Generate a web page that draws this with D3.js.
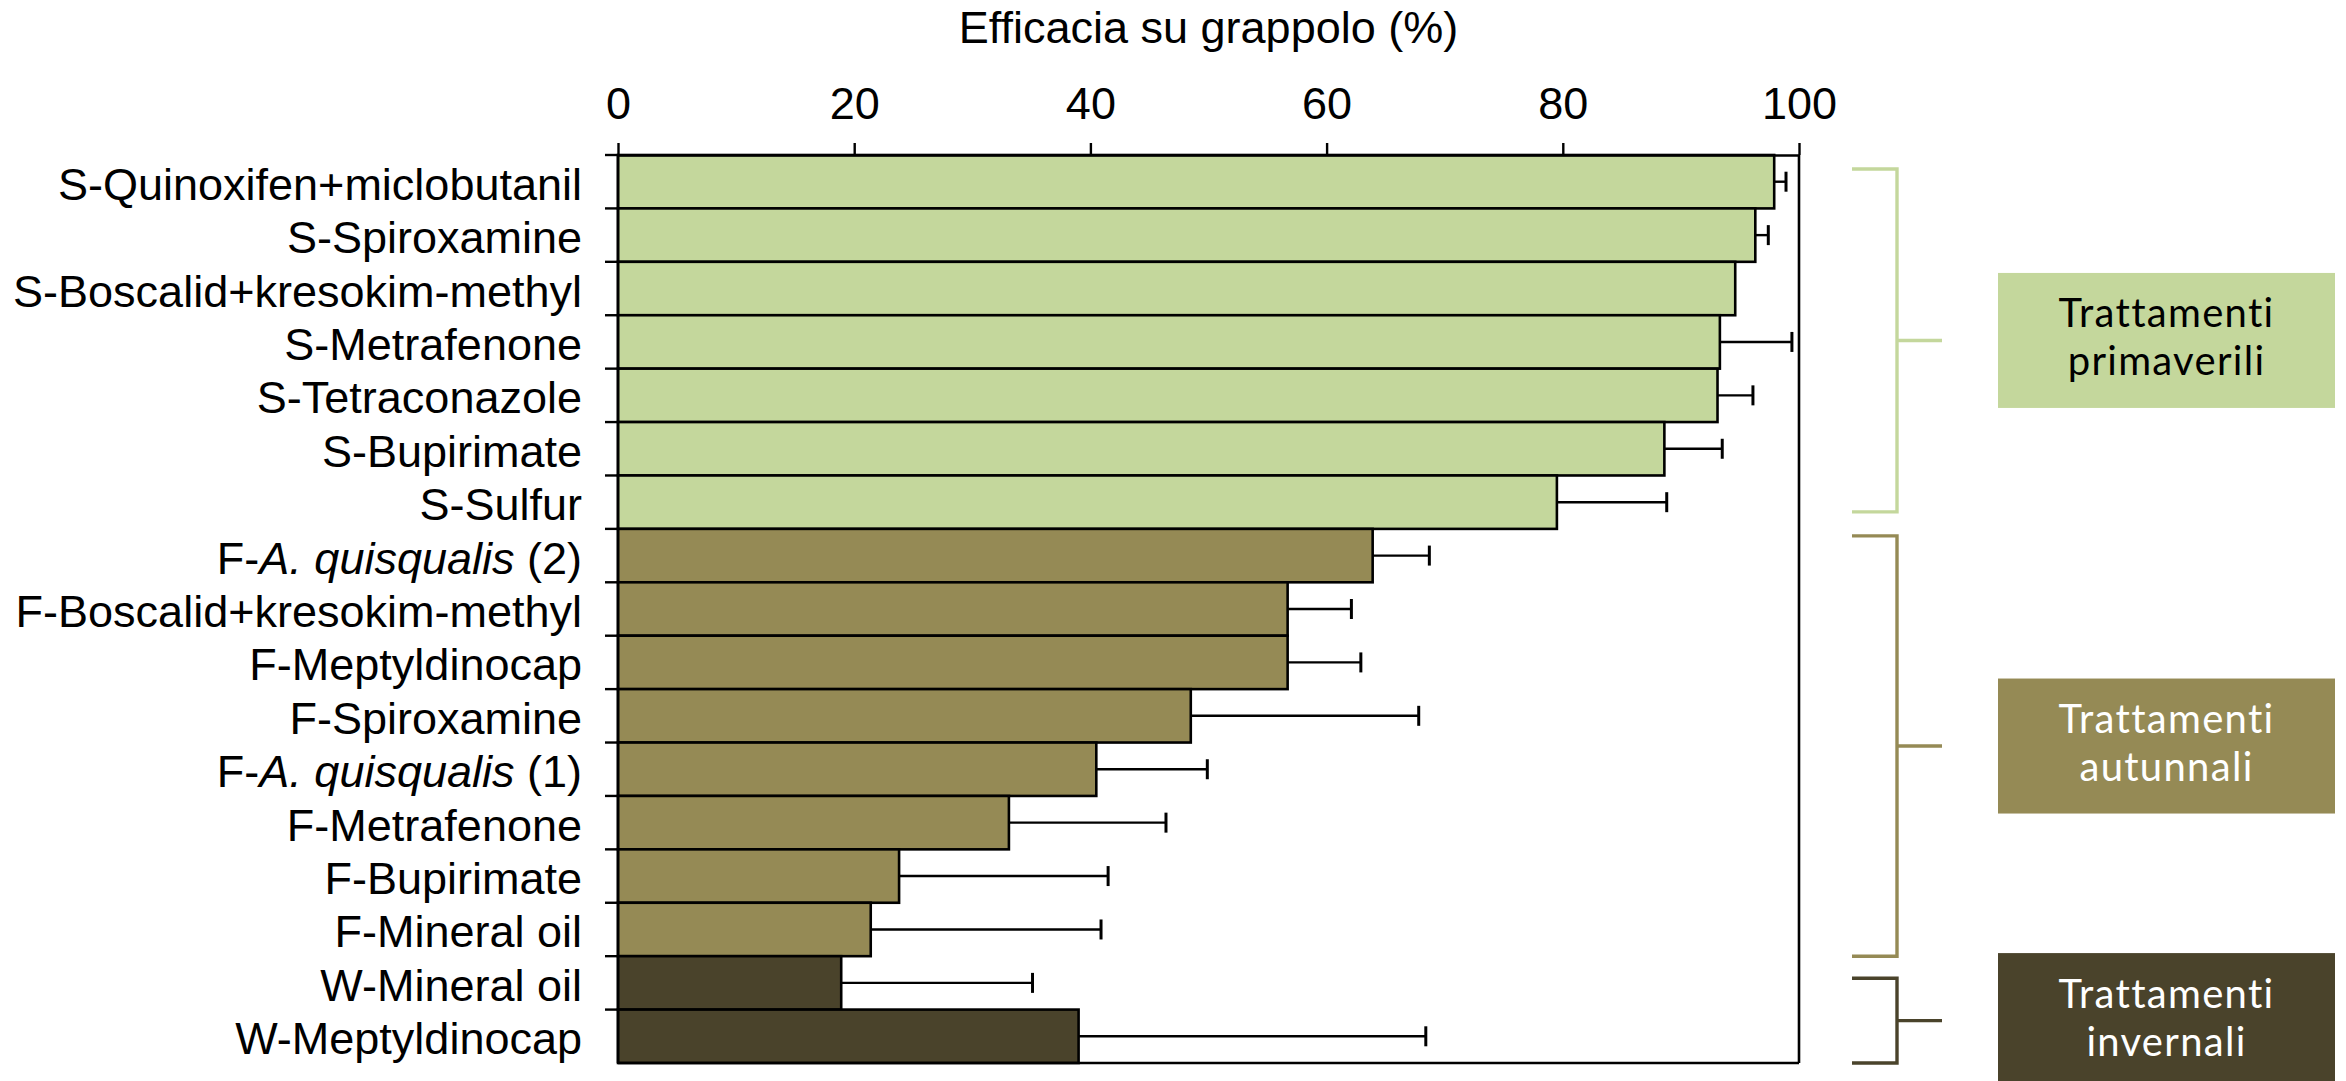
<!DOCTYPE html>
<html>
<head>
<meta charset="utf-8">
<script src="https://cdn.jsdelivr.net/npm/d3@7"></script>
<style>
  html, body { margin: 0; padding: 0; background: #ffffff; }
  svg { display: block; }
</style>
</head>
<body>
<svg id="chart" width="2346" height="1081"></svg>
<script>
// Treatments, top to bottom (S = spring, F = autumn, W = winter)
const categories = [
  "S-Quinoxifen+miclobutanil",
  "S-Spiroxamine",
  "S-Boscalid+kresokim-methyl",
  "S-Metrafenone",
  "S-Tetraconazole",
  "S-Bupirimate",
  "S-Sulfur",
  "F-A. quisqualis (2)",
  "F-Boscalid+kresokim-methyl",
  "F-Meptyldinocap",
  "F-Spiroxamine",
  "F-A. quisqualis (1)",
  "F-Metrafenone",
  "F-Bupirimate",
  "F-Mineral oil",
  "W-Mineral oil",
  "W-Meptyldinocap"
];

// Efficacy on bunches (%) and its error
const efficacy = [97.9, 96.3, 94.6, 93.3, 93.1, 88.6, 79.5,
                  63.9, 56.7, 56.7, 48.5, 40.5, 33.1, 23.8, 21.4,
                  18.9, 39.0];
const errorBar = [1.0, 1.1, 0, 6.1, 3.0, 4.9, 9.3,
                  4.8, 5.4, 6.2, 19.3, 9.4, 13.3, 17.7, 19.5,
                  16.2, 29.4];

// Treatment season of each bar
const season = ["spring", "spring", "spring", "spring", "spring", "spring", "spring",
                "autumn", "autumn", "autumn", "autumn", "autumn", "autumn", "autumn", "autumn",
                "winter", "winter"];

const xTicks = [0, 20, 40, 60, 80, 100];
const axisTitle = "Efficacia su grappolo (%)";

// Group boxes on the right
const groupKeys = ["spring", "autumn", "winter"];
const groupLines = [["Trattamenti", "primaverili"],
                    ["Trattamenti", "autunnali"],
                    ["Trattamenti", "invernali"]];

const seasonFill = { spring: "#c4d79c", autumn: "#958a55", winter: "#4a432b" };
const seasonText = { spring: "#000000", autumn: "#ffffff", winter: "#ffffff" };

const svg = d3.select("#chart");
const labelFont = "'Liberation Sans', Arial, Helvetica, sans-serif";

const x = d3.scaleLinear().domain([0, 100]).range([618, 1799]);
const y = d3.scaleBand().domain(categories).range([155, 1063]).padding(0);
const bw = y.bandwidth();

const rows = categories.map((c, i) => ({
  name: c, value: efficacy[i], err: errorBar[i], season: season[i]
}));

// Bars
svg.append("g")
  .selectAll("rect")
  .data(rows)
  .join("rect")
  .attr("x", x(0))
  .attr("y", d => y(d.name))
  .attr("width", d => x(d.value) - x(0))
  .attr("height", bw)
  .attr("fill", d => seasonFill[d.season])
  .attr("stroke", "#000")
  .attr("stroke-width", 2.6);

// Error bars (one-sided, to the right)
const eb = svg.append("g").attr("stroke", "#000");
const withErr = rows.filter(d => d.err > 0);
eb.selectAll("line.stem")
  .data(withErr)
  .join("line")
  .attr("class", "stem")
  .attr("x1", d => x(d.value))
  .attr("x2", d => x(d.value + d.err))
  .attr("y1", d => y(d.name) + bw / 2)
  .attr("y2", d => y(d.name) + bw / 2)
  .attr("stroke-width", 2.4);
eb.selectAll("line.cap")
  .data(withErr)
  .join("line")
  .attr("class", "cap")
  .attr("x1", d => x(d.value + d.err))
  .attr("x2", d => x(d.value + d.err))
  .attr("y1", d => y(d.name) + bw / 2 - 10)
  .attr("y2", d => y(d.name) + bw / 2 + 10)
  .attr("stroke-width", 3);

// Frame: right and bottom edges
svg.append("line")
  .attr("x1", x(100)).attr("x2", x(100))
  .attr("y1", y.range()[0]).attr("y2", y.range()[1])
  .attr("stroke", "#000").attr("stroke-width", 2.6);
svg.append("line")
  .attr("x1", x(0)).attr("x2", x(100))
  .attr("y1", y.range()[1]).attr("y2", y.range()[1])
  .attr("stroke", "#000").attr("stroke-width", 2.6);

// Top value axis
const topAxis = svg.append("g")
  .attr("transform", `translate(0,${y.range()[0]})`)
  .call(d3.axisTop(x).tickValues(xTicks).tickSize(12).tickSizeOuter(0).tickPadding(24));
topAxis.select(".domain").attr("stroke", "#000").attr("stroke-width", 2.6);
topAxis.selectAll(".tick line").attr("stroke", "#000").attr("stroke-width", 2.4);
topAxis.selectAll(".tick text")
  .attr("font-family", labelFont)
  .attr("font-size", 45)
  .attr("fill", "#000");

// Left category axis: line plus ticks at band boundaries
const leftAxis = svg.append("g");
leftAxis.append("line")
  .attr("x1", x(0)).attr("x2", x(0))
  .attr("y1", y.range()[0]).attr("y2", y.range()[1])
  .attr("stroke", "#000").attr("stroke-width", 2.6);
leftAxis.selectAll("line.tick")
  .data(categories)
  .join("line")
  .attr("class", "tick")
  .attr("x1", x(0) - 13).attr("x2", x(0))
  .attr("y1", d => y(d)).attr("y2", d => y(d))
  .attr("stroke", "#000").attr("stroke-width", 2.4);

// Category labels, with the species name in italics
const labels = leftAxis.selectAll("text")
  .data(categories)
  .join("text")
  .attr("x", x(0) - 36)
  .attr("y", d => y(d) + bw / 2)
  .attr("dy", "0.40em")
  .attr("text-anchor", "end")
  .attr("font-family", labelFont)
  .attr("font-size", 45)
  .attr("fill", "#000");
labels.each(function (d) {
  const t = d3.select(this);
  const m = d.match(/^(.*?-)(A\. quisqualis)(.*)$/);
  if (m) {
    t.append("tspan").text(m[1]);
    t.append("tspan").attr("font-style", "italic").text(m[2]);
    t.append("tspan").text(m[3]);
  } else {
    t.text(d);
  }
});

// Axis title
svg.append("text")
  .attr("x", (x(0) + x(100)) / 2)
  .attr("y", 43)
  .attr("text-anchor", "middle")
  .attr("font-family", labelFont)
  .attr("font-size", 45)
  .attr("fill", "#000")
  .text(axisTitle);

// Season brackets and labelled boxes
const bracketX = 1897, bracketLeft = 1852, bracketTip = 1942;
const boxX = 1998, boxW = 337, boxH = 135;
// top / bottom inset of each bracket inside its group of bars
const bracketInset = [[14, 17], [7, 0], [22, 0]];

groupKeys.forEach((key, gi) => {
  const members = categories.filter((c, i) => season[i] === key);
  const top = y(members[0]) + bracketInset[gi][0];
  const bottom = y(members[members.length - 1]) + bw - bracketInset[gi][1];
  const mid = (top + bottom) / 2;
  const col = seasonFill[key];

  const path = d3.path();
  path.moveTo(bracketLeft, top);
  path.lineTo(bracketX, top);
  path.lineTo(bracketX, bottom);
  path.lineTo(bracketLeft, bottom);
  path.moveTo(bracketX, mid);
  path.lineTo(bracketTip, mid);
  svg.append("path")
    .attr("d", path.toString())
    .attr("fill", "none")
    .attr("stroke", col)
    .attr("stroke-width", 3.4);

  svg.append("rect")
    .attr("x", boxX).attr("y", mid - boxH / 2)
    .attr("width", boxW).attr("height", boxH)
    .attr("fill", col);

  const txt = svg.append("text")
    .attr("text-anchor", "middle")
    .attr("font-family", "Lato, 'Open Sans', sans-serif")
    .attr("font-size", 40)
    .attr("letter-spacing", 1.3)
    .attr("fill", seasonText[key]);
  groupLines[gi].forEach((line, li) => {
    txt.append("tspan")
      .attr("x", boxX + boxW / 2)
      .attr("y", mid - 13 + li * 48)
      .text(line);
  });
});
</script>
</body>
</html>
